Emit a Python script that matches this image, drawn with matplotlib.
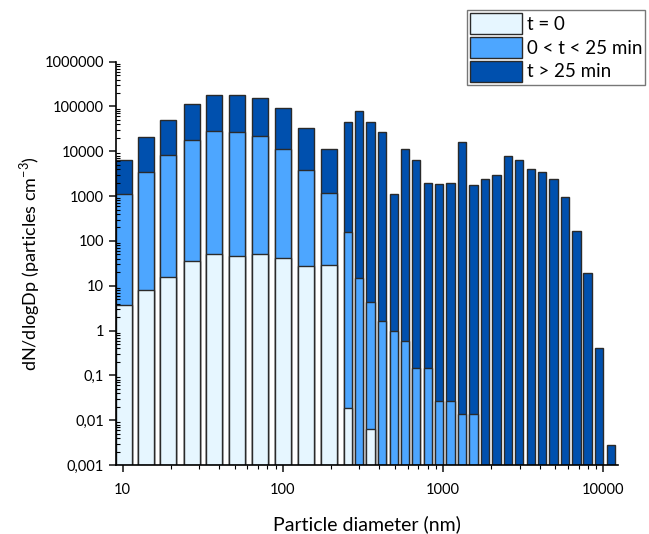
import matplotlib
matplotlib.use('Agg')
import matplotlib.pyplot as plt
from matplotlib.patches import Patch
from matplotlib.ticker import FuncFormatter, LogLocator, NullFormatter
import numpy as np

plt.rcParams['font.family'] = ['Lato', 'DejaVu Sans']
plt.rcParams['mathtext.fontset'] = 'custom'
plt.rcParams['mathtext.rm'] = 'Lato'

# Size distribution (dN/dlogDp)
diameters = [10.2, 14.0, 19.1, 27.1, 37.2, 52.0, 72.1, 100, 140, 194,
             254, 299, 352, 416, 491, 577, 679, 803, 944, 1112, 1314, 1543,
             1825, 2146, 2534, 2980, 3516, 4140, 4868, 5742, 6775, 7966, 9400, 11100]
late = [6400, 20500, 49000, 112000, 183000, 183000, 152000, 92500, 33600, 11200,
        45000, 78000, 45000, 26500, 1115, 11200, 6400, 1930, 1830, 1930, 16400, 1740,
        2370, 2960, 7850, 6400, 3960, 3450, 2440, 970, 169, 19.2, 0.41, 0.0028]
early = [1115, 3500, 8300, 18200, 28400, 26500, 21600, 11200, 3770, 1150,
         160, 14.9, 4.26, 1.6, 0.99, 0.58, 0.146, 0.146, 0.027, 0.027, 0.0137, 0.0137,
         0, 0, 0, 0, 0, 0, 0, 0, 0, 0, 0, 0]
start = [3.7, 8.1, 15.4, 35, 50, 46, 50, 42, 27.5, 28.5,
         0.0189, 0, 0.0063, 0, 0, 0, 0, 0, 0, 0, 0, 0,
         0, 0, 0, 0, 0, 0, 0, 0, 0, 0, 0, 0]
labels = ['t = 0', '0 < t < 25 min', 't > 25 min']

colors = ['#E6F6FF', '#4DA6FF', '#0050AE']
edge = '#2a2a2a'
ymin = 1e-3

fig = plt.figure(figsize=(6.49, 5.34), dpi=100)
ax = fig.add_axes([0.1787, 0.1292, 0.7733, 0.7553])

d = np.array(diameters)
logw = np.where(np.arange(len(d)) < 10, 0.1, 0.052)
left = d * 10 ** (-logw / 2)
right = d * 10 ** (logw / 2)

for vals, col in zip([late, early, start], colors[::-1]):
    v = np.array(vals, dtype=float)
    m = v > ymin
    ax.bar(left[m], v[m] - ymin, width=(right - left)[m], bottom=ymin,
           align='edge', color=col, edgecolor=edge, linewidth=1.0)

ax.set_xscale('log')
ax.set_yscale('log')
ax.set_xlim(9.08, 12300)
ax.set_ylim(1e-3, 1e6)

for s in ['top', 'right']:
    ax.spines[s].set_visible(False)
ax.spines['left'].set_linewidth(1.2)
ax.spines['bottom'].set_linewidth(1.2)

ax.yaxis.set_major_locator(LogLocator(base=10, numticks=20))
ax.yaxis.set_minor_locator(LogLocator(base=10, subs=np.arange(2, 10), numticks=20))
ax.yaxis.set_major_formatter(FuncFormatter(
    lambda v, p: (f'{v:.0f}' if v >= 1 else f'{v:.{int(round(-np.log10(v)))}f}').replace('.', ',')))
ax.yaxis.set_minor_formatter(NullFormatter())
ax.xaxis.set_major_formatter(FuncFormatter(lambda v, p: f'{v:.0f}'))
ax.xaxis.set_minor_formatter(NullFormatter())

ax.tick_params(axis='both', which='major', direction='out', length=5, width=1.2,
               labelsize=10.5, color='#222222')
ax.tick_params(axis='x', which='major', pad=8)
ax.tick_params(axis='y', which='minor', direction='in', length=3, width=0.8)
ax.tick_params(axis='x', which='minor', direction='out', length=3, width=0.8)

ax.set_xlabel('Particle diameter (nm)', fontsize=14, labelpad=13)
ax.set_ylabel('dN/dlogDp (particles cm$^{-3}$)', fontsize=13, labelpad=2)

handles = [Patch(facecolor=c, edgecolor=edge, linewidth=1.0) for c in colors]
leg = fig.legend(handles, labels, loc='upper right', bbox_to_anchor=(0.994, 0.981),
                 fontsize=13.5, frameon=True, fancybox=False, edgecolor='#555555',
                 handlelength=2.8, handleheight=1.35, handletextpad=0.25,
                 labelspacing=0.15, borderpad=0.15, borderaxespad=0)
leg.get_frame().set_linewidth(1.0)

fig.savefig('out.png', dpi=100)
